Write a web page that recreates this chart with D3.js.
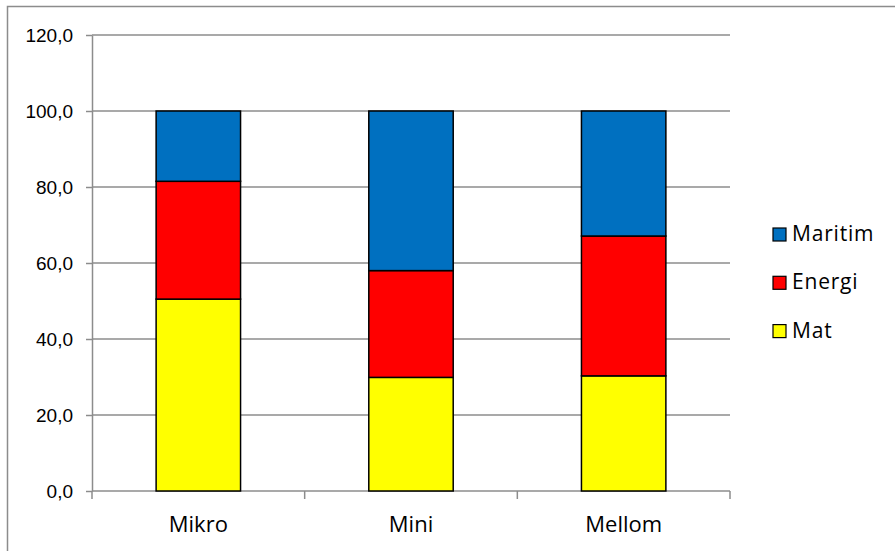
<!DOCTYPE html>
<html>
<head>
<meta charset="utf-8">
<script src="https://cdn.jsdelivr.net/npm/d3@7"></script>
<style>
  body { margin: 0; background: #fff; }
  svg { display: block; font-family: "Open Sans", sans-serif; }
  .grid line { stroke: #8c8c8c; stroke-width: 1.5; }
  .axis path, .axis line { stroke: #8c8c8c; stroke-width: 1.5; }
  .axis text { fill: #000; }
</style>
</head>
<body>
<svg width="895" height="551"></svg>
<script>
const categories = ["Mikro", "Mini", "Mellom"];
const series = ["Mat", "Energi", "Maritim"];
const mat = [50.5, 29.9, 30.3];
const energi = [31.0, 28.1, 36.8];
const maritim = [18.5, 42.0, 32.9];
const yTicks = [0, 20, 40, 60, 80, 100, 120];
const colors = ["#ffff00", "#ff0000", "#0070c0"];

const WIDTH = 895, HEIGHT = 551;
const margin = { left: 92, right: 165, top: 35, bottom: 60 };

const svg = d3.select("svg");

// outer chart border (runs off the right/bottom edge)
svg.append("rect")
  .attr("x", 7.5).attr("y", 6.5)
  .attr("width", WIDTH).attr("height", HEIGHT)
  .attr("fill", "none")
  .attr("stroke", "#8c8c8c")
  .attr("stroke-width", 1.5);

const x = d3.scaleBand()
  .domain(categories)
  .range([margin.left, WIDTH - margin.right])
  .paddingInner(0.603)
  .paddingOuter(0.3015);

const y = d3.scaleLinear()
  .domain([0, 120])
  .range([HEIGHT - margin.bottom, margin.top]);

const table = categories.map((c, i) => ({ cat: c, Mat: mat[i], Energi: energi[i], Maritim: maritim[i] }));
const stacked = d3.stack().keys(series)(table);

// gridlines
svg.append("g").attr("class", "grid")
  .selectAll("line")
  .data(yTicks.filter(d => d > 0))
  .join("line")
  .attr("x1", margin.left).attr("x2", WIDTH - margin.right)
  .attr("y1", d => y(d)).attr("y2", d => y(d));

// y axis
const yAxis = svg.append("g").attr("class", "axis")
  .attr("transform", `translate(${margin.left},0)`)
  .call(d3.axisLeft(y).tickValues(yTicks).tickSize(6).tickSizeOuter(0).tickPadding(13)
    .tickFormat(d => d3.format(".1f")(d).replace(".", ",")));
yAxis.selectAll("text").style("font-size", "19px");

// x axis with ticks on category boundaries
const step = x.step();
const xBottom = y(0);
const xAxis = svg.append("g").attr("class", "axis");
xAxis.append("line")
  .attr("x1", margin.left).attr("x2", WIDTH - margin.right)
  .attr("y1", xBottom).attr("y2", xBottom);
xAxis.selectAll(".xt")
  .data(d3.range(categories.length + 1))
  .join("line")
  .attr("class", "xt")
  .attr("x1", i => margin.left + i * step).attr("x2", i => margin.left + i * step)
  .attr("y1", xBottom).attr("y2", xBottom + 8);
xAxis.selectAll("text")
  .data(categories)
  .join("text")
  .attr("x", d => x(d) + x.bandwidth() / 2)
  .attr("y", xBottom + 41)
  .attr("text-anchor", "middle")
  .style("font-size", "22px")
  .text(d => d);

// bars
svg.append("g")
  .selectAll("g")
  .data(stacked)
  .join("g")
  .attr("fill", (d, i) => colors[i])
  .selectAll("rect")
  .data(d => d)
  .join("rect")
  .attr("x", d => x(d.data.cat))
  .attr("width", x.bandwidth())
  .attr("y", d => y(d[1]))
  .attr("height", d => y(d[0]) - y(d[1]))
  .attr("stroke", "#000")
  .attr("stroke-width", 1.5);

// legend, top item is Maritim
const legendItems = series.map((s, i) => ({ name: s, color: colors[i] })).reverse();
const legend = svg.append("g").attr("transform", "translate(773,228)");
const li = legend.selectAll("g")
  .data(legendItems)
  .join("g")
  .attr("transform", (d, i) => `translate(0,${i * 48.3})`);
li.append("rect")
  .attr("width", 13).attr("height", 13)
  .attr("fill", d => d.color)
  .attr("stroke", "#000").attr("stroke-width", 1.2);
li.append("text")
  .attr("x", 19).attr("y", 13)
  .style("font-size", "21px")
  .style("letter-spacing", "0.8px")
  .text(d => d.name);
</script>
</body>
</html>
